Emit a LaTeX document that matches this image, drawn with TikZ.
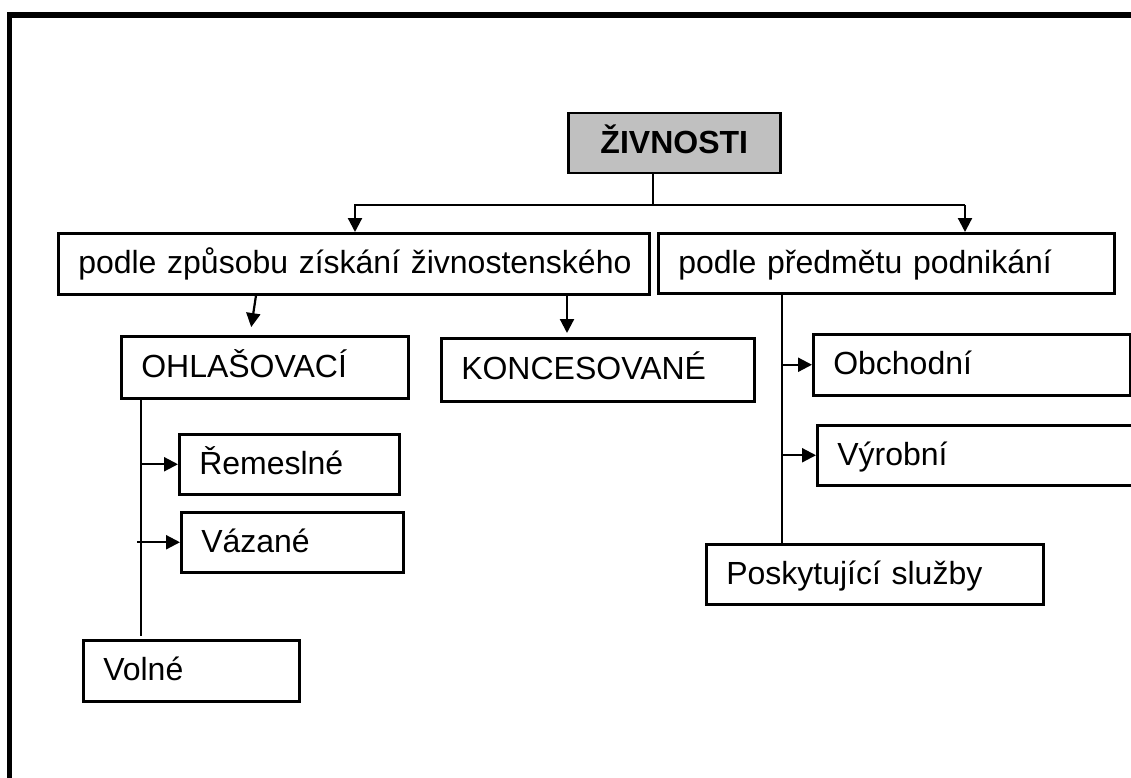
\documentclass[tikz,border=0pt]{standalone}
\usepackage{fontspec}
\setmainfont{Liberation Sans}
\usetikzlibrary{arrows.meta}
\definecolor{zgray}{RGB}{192,192,192}
\newcommand{\padl}{\hspace*{20pt}}
\begin{document}
\begin{tikzpicture}[x=1pt,y=-1pt,
  box/.style={draw, line width=2.5pt, rectangle, inner xsep=0pt, inner ysep=0pt,
    align=left, text height=24pt, text depth=4pt, anchor=north west,
    font=\fontsize{32}{38}\selectfont},
  titlebox/.style={draw, line width=2.5pt, rectangle, fill=zgray, inner xsep=0pt, inner ysep=0pt,
    align=center, text height=24pt, text depth=4pt, anchor=north west,
    font=\fontsize{32}{38}\selectfont\bfseries},
  conn/.style={line width=2.2pt},
  arr/.style={conn, -{Triangle[length=14pt,width=14pt]}},
  frame/.style={line width=5.3pt}
]
\useasboundingbox (0,0) rectangle (1131,778);
\begin{scope}
\clip (0,0) rectangle (1131,778);
\fill[white] (0,0) rectangle (1131,778);
\draw[frame] (9.5,800) -- (9.5,15) -- (1150,15);

% nodes
\node[titlebox, text width=212pt, minimum height=60pt] (z) at (567,112) {ŽIVNOSTI};
\node[box, text width=591pt, minimum height=61pt] (a) at (57,232) {\padl podle způsobu získání živnostenského};
\node[box, text width=456pt, minimum height=60pt] (b) at (657,232) {\padl podle předmětu podnikání};
\node[box, text width=287pt, minimum height=62pt] (ohl) at (120,335) {\padl OHLAŠOVACÍ};
\node[box, text width=313pt, minimum height=63pt] (konc) at (440,337) {\padl KONCESOVANÉ};
\node[box, text width=220pt, minimum height=60pt] (rem) at (178,433) {\padl Řemeslné};
\node[box, text width=222pt, minimum height=60pt] (vaz) at (180,511) {\padl Vázané};
\node[box, text width=216pt, minimum height=61pt] (volne) at (82,639) {\padl Volné};
\node[box, text width=317pt, minimum height=61pt] (obch) at (812,333) {\padl Obchodní};
\node[box, text width=345pt, minimum height=60pt] (vyr) at (816,424) {\padl Výrobní};
\node[box, text width=337pt, minimum height=60pt] (posk) at (705,543) {\padl Poskytující služby};

% helper coordinates
\coordinate (xz) at (653,0);
\coordinate (bar) at (0,205);
\coordinate (xl) at (355,0);
\coordinate (xr) at (965,0);
\coordinate (p1) at (256,0);
\coordinate (p2) at (250,0);
\coordinate (p3) at (567,0);
\coordinate (t1) at (141,0);
\coordinate (t1b) at (137,0);
\coordinate (t2) at (782,0);

% connectors
\draw[conn] (xz |- z.south) -- (xz |- bar);
\draw[arr] (xr |- bar) -- (xl |- bar) -- (xl |- a.north);
\draw[arr] (xr |- bar) -- (xr |- b.north);
\draw[arr, shorten >=8pt] (p1 |- a.south) -- (p2 |- ohl.north);
\draw[arr, shorten >=4pt] (p3 |- a.south) -- (p3 |- konc.north);
\draw[conn, shorten >=3pt] (t1 |- ohl.south) -- (t1 |- volne.north);
\draw[arr] (t1 |- rem.west) -- (rem.west);
\draw[arr] (t1b |- vaz.west) -- (vaz.west);
\draw[conn] (t2 |- b.south) -- (t2 |- posk.north);
\draw[arr] (t2 |- obch.west) -- (obch.west);
\draw[arr] (t2 |- vyr.west) -- (vyr.west);
\end{scope}
\end{tikzpicture}
\end{document}
